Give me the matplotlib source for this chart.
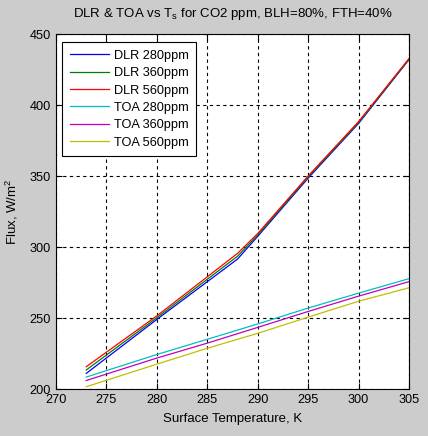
import numpy as np
import matplotlib
matplotlib.use("Agg")
import matplotlib.pyplot as plt

plt.rcParams['font.family'] = ['Liberation Sans', 'DejaVu Sans']
plt.rcParams['mathtext.default'] = 'regular'

# surface temperatures (K)
ts_dlr = [273, 280, 288, 290, 295, 300, 305]
ts_toa = [273, 280, 285, 290, 295, 300, 305]

# downward longwave radiation, W/m2
dlr_280 = [211.0, 249.0, 291.5, 307.5, 348.5, 387.0, 432.0]
dlr_360 = [213.4, 250.2, 293.5, 308.5, 349.3, 387.6, 432.3]
dlr_560 = [215.7, 251.5, 295.5, 309.5, 350.0, 388.3, 432.7]

# top of atmosphere outgoing, W/m2
toa_280 = [208.4, 224.3, 235.0, 245.8, 257.0, 267.5, 277.7]
toa_360 = [206.0, 221.8, 232.3, 243.4, 254.6, 265.4, 275.6]
toa_560 = [201.6, 217.5, 228.7, 239.2, 250.6, 261.8, 271.3]

labels = ['DLR 280ppm', 'DLR 360ppm', 'DLR 560ppm',
          'TOA 280ppm', 'TOA 360ppm', 'TOA 560ppm']
colors = ['#0000ff', '#007f00', '#ff0000', '#00bfbf', '#bf00bf', '#bfbf00']

fig = plt.figure(figsize=(4.28, 4.36), dpi=100, facecolor='#cccccc')
ax = fig.add_axes([56/428, 47/436, 353/428, 355/436])

series = [(ts_dlr, dlr_280), (ts_dlr, dlr_360), (ts_dlr, dlr_560),
          (ts_toa, toa_280), (ts_toa, toa_360), (ts_toa, toa_560)]
for (x, y), c, lab in zip(series, colors, labels):
    ax.plot(x, y, color=c, lw=0.9, label=lab)

ax.set_xlim(270, 305)
ax.set_ylim(200, 450)
ax.set_xticks(np.arange(270, 306, 5))
ax.set_yticks(np.arange(200, 451, 50))
ax.grid(True, color='k', ls=(0, (3, 3)), lw=0.8)
ax.set_axisbelow(True)
ax.tick_params(direction='in', top=True, right=True, length=4, labelsize=9.2, width=0.8)
for s in ax.spines.values():
    s.set_linewidth(0.8)

ax.set_title('DLR & TOA vs T$_s$ for CO2 ppm, BLH=80%, FTH=40%', fontsize=9.5, pad=12)
ax.set_xlabel('Surface Temperature, K', fontsize=9.5, labelpad=5)
ax.set_ylabel('Flux, W/m$^2$', fontsize=9.5, labelpad=7)

leg = ax.legend(loc='upper left', bbox_to_anchor=(0.017, 0.977), borderaxespad=0,
                fontsize=9.2, fancybox=False, edgecolor='k', framealpha=1,
                handlelength=3.1, handletextpad=0.35, labelspacing=0.42,
                borderpad=0.6)
leg.get_frame().set_linewidth(0.8)

fig.savefig('out.png', dpi=100, facecolor=fig.get_facecolor())
